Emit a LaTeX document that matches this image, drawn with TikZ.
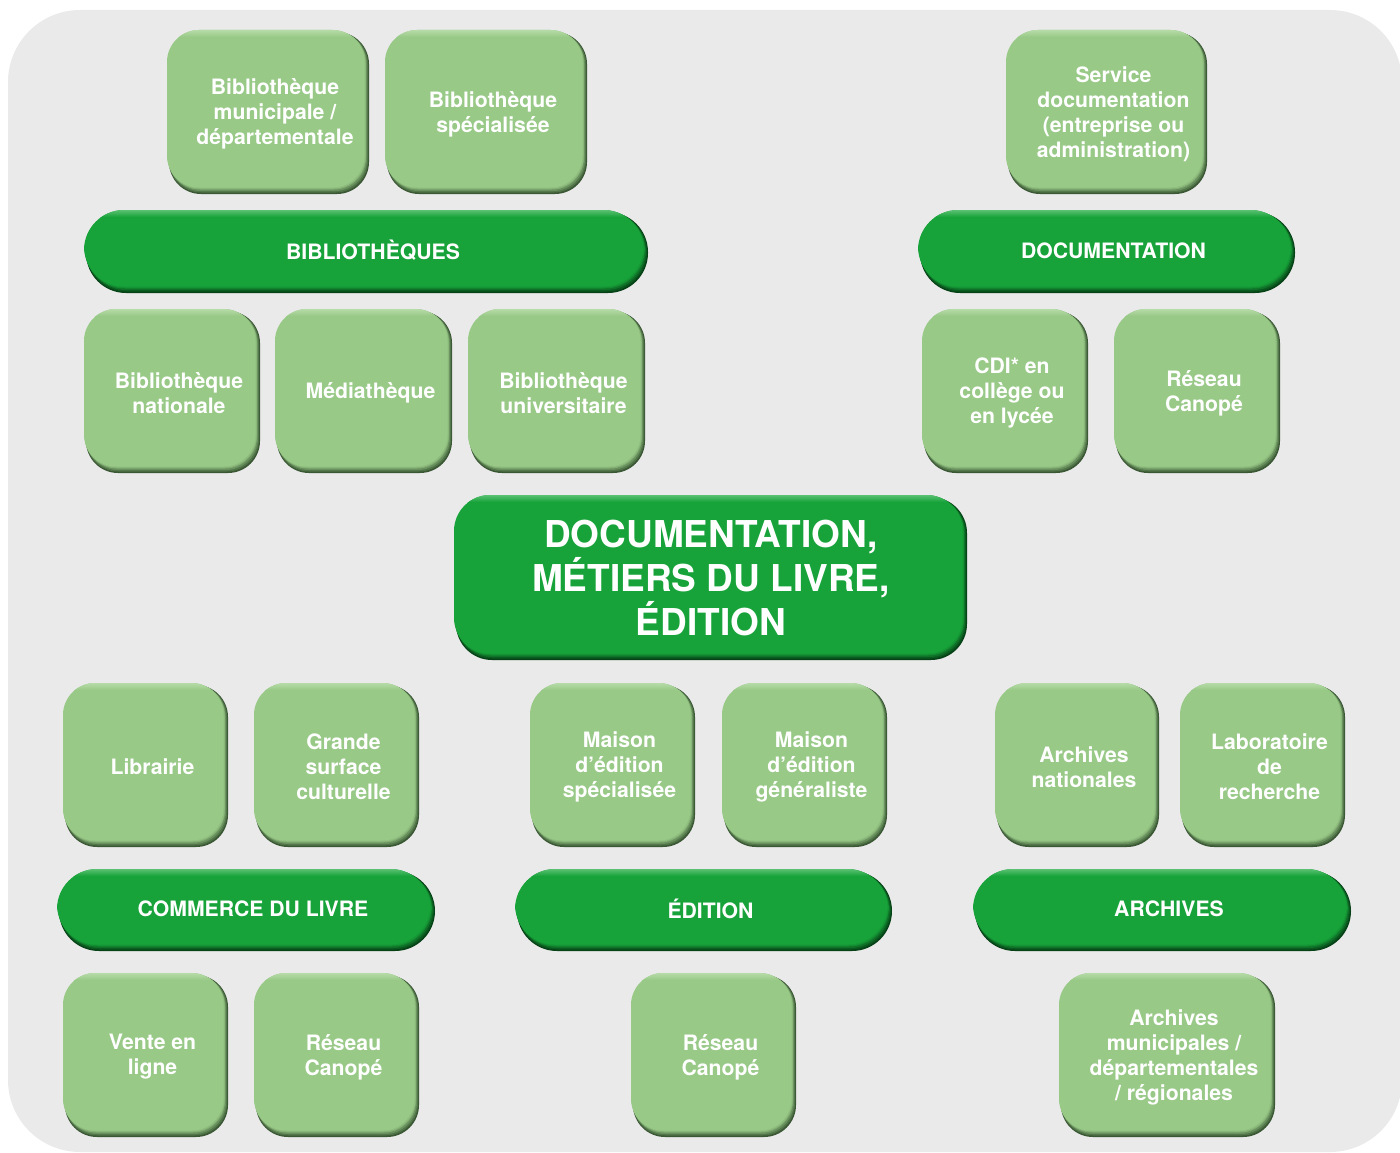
\documentclass[tikz,border=0pt]{standalone}
\usepackage{fontspec}
\setmainfont{TeX Gyre Heros}
\definecolor{bgc}{RGB}{234,234,234}
\definecolor{Lbase}{RGB}{152,201,135}
\definecolor{Lhi}{RGB}{186,222,172}
\definecolor{Ldk}{RGB}{58,88,52}
\definecolor{Dbase}{RGB}{23,163,58}
\definecolor{Dhi}{RGB}{100,196,122}
\definecolor{Ddk}{RGB}{6,66,22}
\tikzset{
  boxtext/.style={text=white,font=\bfseries\fontsize{21.2}{25}\selectfont,align=center,inner sep=0pt},
  bigtext/.style={text=white,font=\bfseries\fontsize{37}{44}\selectfont,align=center,inner sep=0pt},
}
% #1 base colour, #2 hi, #3 dark, #4 radius, #5..#8 x0 y0 x1 y1
\newcommand\shadedbox[8]{%
  \fill[#3,rounded corners=#4] ({#5+2},{#6+2}) rectangle (#7,#8);
  \fill[#3!75!#1,rounded corners=#4] ({#5+2},{#6+2}) rectangle ({#7-1},{#8-1.5});
  \fill[#3!50!#1,rounded corners=#4] ({#5+2},{#6+2}) rectangle ({#7-2},{#8-3});
  \fill[#3!25!#1,rounded corners=#4] ({#5+1},{#6+1}) rectangle ({#7-3},{#8-4.5});
  \fill[#3!10!#1,rounded corners=#4] ({#5+0.5},{#6+0.5}) rectangle ({#7-3.5},{#8-5.5});
  \fill[#1,rounded corners=#4] (#5,#6) rectangle ({#7-4.5},{#8-6.5});
  \begin{scope}
    \clip[rounded corners=#4] (#5,#6) rectangle ({#7-4.5},{#8-6.5});
    \shade[top color=#2,bottom color=#1] (#5,{#6-1}) rectangle (#7,{#6+7});
  \end{scope}
}
% light box: name x0 y0 x1 y1 text
\newcommand\lbox[6]{%
  \shadedbox{Lbase}{Lhi}{Ldk}{32pt}{#2}{#3}{#4}{#5}
  \node[boxtext] (#1) at ({(#2+#4)/2+7},{(#3+#5)/2+2}) {#6};
}
% bar: name x0 y0 x1 y1 text
\newcommand\dbar[6]{%
  \shadedbox{Dbase}{Dhi}{Ddk}{40pt}{#2}{#3}{#4}{#5}
  \node[boxtext] (#1) at ({(#2+#4)/2+7},{(#3+#5)/2-1}) {#6};
}
\begin{document}
\begin{tikzpicture}[x=1pt,y=-1pt]
\useasboundingbox (0,0) rectangle (1400,1153);
\fill[bgc,rounded corners=72pt] (8,10) rectangle (1402,1152);

% top row
\lbox{bm}{167}{30}{369}{194}{Bibliothèque\\municipale /\\départementale}
\lbox{bs}{385}{30}{587}{194}{Bibliothèque\\spécialisée}
\lbox{sd}{1006}{30}{1207}{194}{Service\\documentation\\(entreprise ou\\administration)}

\dbar{bib}{84}{210}{648}{293}{BIBLIOTHÈQUES}
\dbar{doc}{918}{210}{1295}{293}{DOCUMENTATION}

\lbox{bn}{84}{309}{260}{473}{Bibliothèque\\nationale}
\lbox{med}{275}{309}{452}{473}{Médiathèque}
\lbox{bu}{468}{309}{645}{473}{Bibliothèque\\universitaire}
\lbox{cdi}{922}{309}{1088}{473}{CDI* en\\collège ou\\en lycée}
\lbox{rca}{1114}{309}{1280}{473}{Réseau\\Canopé}

% centre
\shadedbox{Dbase}{Dhi}{Ddk}{36pt}{454}{495}{967}{660}
\node[bigtext] (main) at (711,578) {DOCUMENTATION,\\MÉTIERS DU LIVRE,\\ÉDITION};

% lower rows
\lbox{lib}{63}{683}{228}{847}{Librairie}
\lbox{gsc}{254}{683}{419}{847}{Grande\\surface\\culturelle}
\lbox{mes}{530}{683}{695}{847}{Maison\\d’édition\\spécialisée}
\lbox{meg}{722}{683}{887}{847}{Maison\\d’édition\\généraliste}
\lbox{an}{995}{683}{1159}{847}{Archives\\nationales}
\lbox{lab}{1180}{683}{1345}{847}{Laboratoire\\de\\recherche}

\dbar{com}{57}{869}{435}{951}{COMMERCE DU LIVRE}
\dbar{edi}{515}{869}{892}{951}{ÉDITION}
\dbar{arc}{973}{869}{1351}{951}{ARCHIVES}

\lbox{vel}{63}{973}{228}{1137}{Vente en\\ligne}
\lbox{rcb}{254}{973}{419}{1137}{Réseau\\Canopé}
\lbox{rcc}{631}{973}{796}{1137}{Réseau\\Canopé}
\lbox{am}{1059}{973}{1275}{1137}{Archives\\municipales /\\départementales\\/ régionales}
\end{tikzpicture}
\end{document}
